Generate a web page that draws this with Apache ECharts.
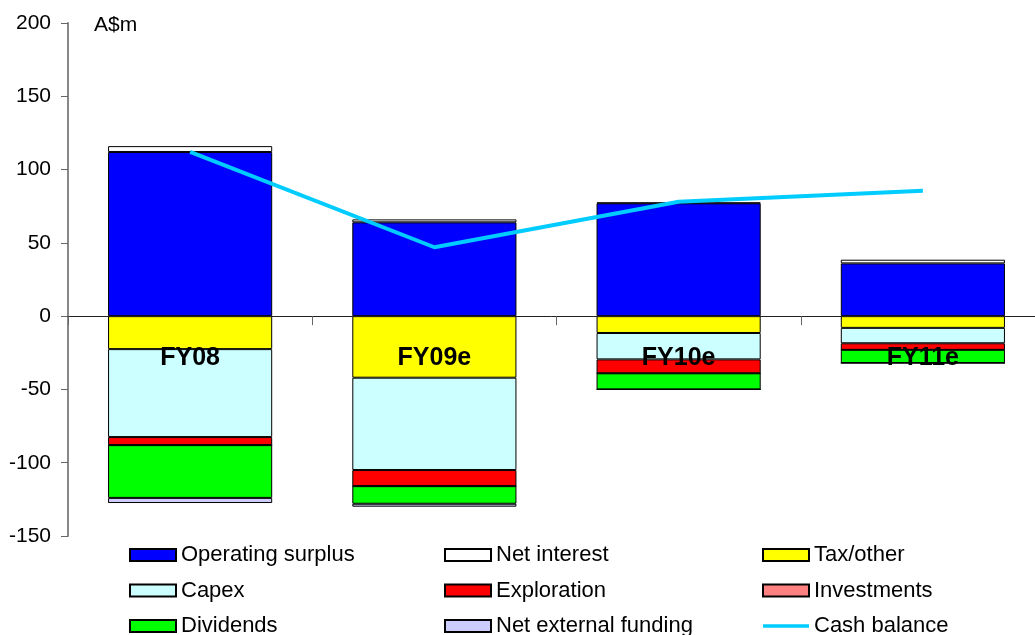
<!DOCTYPE html>
<html>
<head>
<meta charset="utf-8">
<script src="https://cdn.jsdelivr.net/npm/echarts@6/dist/echarts.min.js"></script>
<style>
  html, body { margin: 0; padding: 0; background: #fff; }
  #chart { width: 1035px; height: 635px; }
</style>
</head>
<body>
<div id="chart"></div>
<script>
  // 数据
  var categories = ['FY08', 'FY09e', 'FY10e', 'FY11e'];
  var operatingSurplus = [112, 64, 77, 36];
  var netInterest = [4, 2, 0.5, 2.5];
  var taxOther = [-22.5, -42, -11.5, -8];
  var capex = [-60, -63, -18, -10.5];
  var exploration = [-5.5, -11, -9.5, -4.5];
  var investments = [0, 0, 0, 0];
  var dividends = [-36, -12, -11, -9];
  var netExternalFunding = [-3.5, -2, 0, 0];
  var cashBalance = [112, 47, 78, 85.5];
  // 类目标签放在零线下方
  var labelBase = [0, 0, 0, 0];

  var font = '"Liberation Sans", Arial, sans-serif';

  function bar(name, data, color) {
    return {
      name: name,
      type: 'bar',
      stack: 'cash',
      barWidth: '67.2%',
      data: data,
      itemStyle: { color: color, borderColor: '#000', borderWidth: 1 }
    };
  }

  function legend(left, items) {
    return {
      orient: 'vertical',
      left: left,
      top: 544,
      height: 120,
      padding: 0,
      icon: 'rect',
      itemWidth: 46,
      itemHeight: 12,
      itemGap: 13.5,
      itemTextGap: 8,
      textStyle: { fontFamily: font, fontSize: 22, color: '#000' },
      data: items
    };
  }

  var chart = echarts.init(document.getElementById('chart'));
  chart.setOption({
    animation: false,
    backgroundColor: '#fff',
    textStyle: { fontFamily: font },
    title: {
      text: 'A$m', left: 89, top: 10,
      textStyle: { fontFamily: font, fontSize: 21, fontWeight: 'normal', color: '#000' }
    },
    grid: { left: 68, right: -10, top: 23, bottom: 99, containLabel: false, outerBoundsMode: 'none' },
    legend: [
      legend(129, ['Operating surplus', 'Capex', 'Dividends']),
      legend(444, ['Net interest', 'Exploration', 'Net external funding']),
      legend(762, ['Tax/other', 'Investments', { name: 'Cash balance', icon: 'path://M0,0H50V4H0Z' }])
    ],
    xAxis: {
      type: 'category',
      data: categories,
      z: 10,
      axisLine: { onZero: true, lineStyle: { color: '#222', width: 1 } },
      axisTick: { show: true, length: 9, lineStyle: { color: '#666' } },
      axisLabel: { show: false }
    },
    yAxis: {
      type: 'value',
      min: -150,
      max: 200,
      interval: 50,
      splitLine: { show: false },
      axisLine: { show: true, lineStyle: { color: '#888', width: 2 } },
      axisTick: { show: true, length: 7, lineStyle: { color: '#666' } },
      axisLabel: { fontFamily: font, fontSize: 21, color: '#000', margin: 17 }
    },
    series: [
      bar('Operating surplus', operatingSurplus, '#0000FF'),
      bar('Net interest', netInterest, '#FFFFFF'),
      bar('Tax/other', taxOther, '#FFFF00'),
      bar('Capex', capex, '#CCFFFF'),
      bar('Exploration', exploration, '#FF0000'),
      bar('Investments', investments, '#FF8080'),
      bar('Dividends', dividends, '#00FF00'),
      bar('Net external funding', netExternalFunding, '#CCCCFF'),
      {
        name: 'Cash balance',
        type: 'line',
        data: cashBalance,
        symbol: 'none',
        z: 5,
        lineStyle: { color: '#00CCFF', width: 4 },
        itemStyle: { color: '#00CCFF' }
      },
      {
        // 类目标签
        name: 'labels',
        type: 'scatter',
        data: labelBase,
        symbolSize: 0,
        silent: true,
        z: 10,
        itemStyle: { opacity: 1 },
        label: {
          show: true,
          position: 'bottom',
          distance: 29,
          formatter: '{b}',
          fontFamily: font,
          fontSize: 25,
          fontWeight: 'bold',
          color: '#000',
          opacity: 1
        }
      }
    ]
  });
</script>
</body>
</html>
